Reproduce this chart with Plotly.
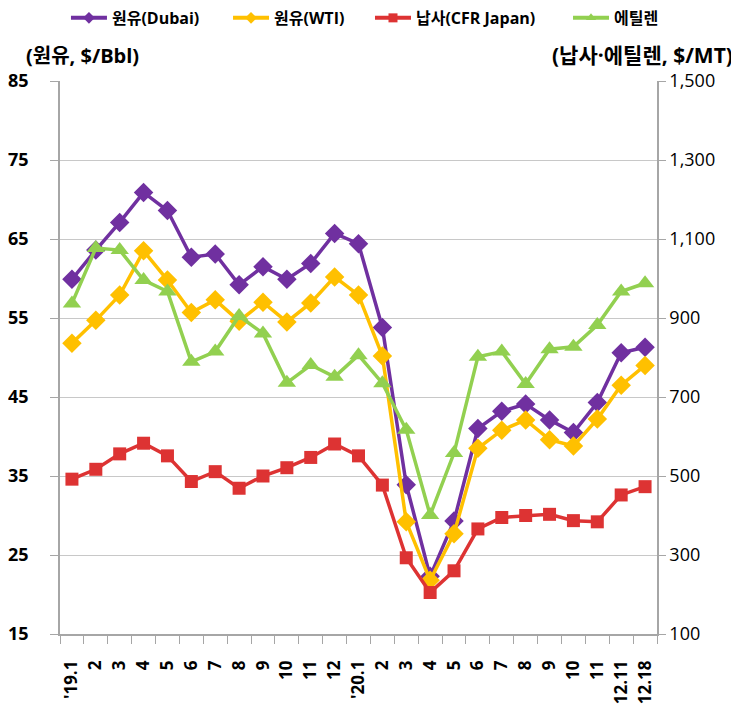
import plotly.graph_objects as go

x_labels = ["'19.1", "2", "3", "4", "5", "6", "7", "8", "9", "10", "11", "12",
            "'20.1", "2", "3", "4", "5", "6", "7", "8", "9", "10", "11", "12.11", "12.18"]

dubai = [59.9, 63.6, 67.1, 70.9, 68.6, 62.7, 63.1, 59.2, 61.5, 59.9, 61.9, 65.7,
         64.4, 53.8, 33.9, 22.3, 29.3, 41.0, 43.2, 44.1, 42.1, 40.5, 44.3, 50.6, 51.3]
wti = [51.8, 54.7, 57.9, 63.5, 59.8, 55.7, 57.3, 54.6, 57.0, 54.5, 56.9, 60.2,
       57.9, 50.2, 29.2, 21.8, 27.7, 38.5, 40.8, 42.1, 39.6, 38.8, 42.2, 46.5, 49.0]
naphtha = [492, 517, 556, 583, 551, 486, 511, 469, 500, 521, 547, 581,
           551, 477, 293, 205, 260, 366, 395, 400, 403, 387, 384, 452, 473]
ethylene = [937, 1077, 1072, 996, 967, 789, 815, 905, 861, 736, 781, 751,
            806, 735, 617, 401, 558, 802, 815, 733, 821, 827, 882, 967, 988]

series_names = ["원유(Dubai)", "원유(WTI)", "납사(CFR Japan)", "에틸렌"]

left_ticks = [15, 25, 35, 45, 55, 65, 75, 85]
right_ticks = [100, 300, 500, 700, 900, 1100, 1300, 1500]

FONT = "Open Sans, Noto Sans CJK KR"
xi = list(range(len(x_labels)))

styles = [
    dict(color="#7030A0", symbol="diamond", size=15, axis="y"),
    dict(color="#FFC000", symbol="diamond", size=15, axis="y"),
    dict(color="#DD3333", symbol="square", size=13, axis="y2"),
    dict(color="#92D050", symbol="triangle-up", size=16, axis="y2"),
]
data = [dubai, wti, naphtha, ethylene]
legend_ids = ["legend", "legend2", "legend3", "legend4"]
legend_x = [0.0793, 0.3010, 0.4952, 0.7661]

fig = go.Figure()
for name, vals, st, lid in zip(series_names, data, styles, legend_ids):
    fig.add_trace(go.Scatter(x=xi, y=vals, name=name, mode="lines+markers",
                             yaxis=st["axis"], showlegend=False,
                             line=dict(color=st["color"], width=3.5),
                             marker=dict(symbol=st["symbol"], size=st["size"],
                                         color=st["color"])))
    # legend proxy with smaller marker, as in the reference legend
    fig.add_trace(go.Scatter(x=[None], y=[None], name=name, mode="lines+markers",
                             yaxis=st["axis"], showlegend=True, legend=lid,
                             line=dict(color=st["color"], width=4),
                             marker=dict(symbol=st["symbol"], size=9,
                                         color=st["color"])))

legend_common = dict(orientation="h", xref="container", y=1.114, yanchor="middle",
                     xanchor="left",
                     font=dict(size=16, family=FONT, weight="bold"),
                     itemwidth=36, bgcolor="rgba(0,0,0,0)")

fig.update_layout(
    width=731, height=706,
    margin=dict(l=52, r=82, t=73, b=80, autoexpand=False),
    paper_bgcolor="white", plot_bgcolor="white",
    font=dict(family=FONT, color="black"),
    showlegend=True,
    legend=dict(x=legend_x[0], **legend_common),
    legend2=dict(x=legend_x[1], **legend_common),
    legend3=dict(x=legend_x[2], **legend_common),
    legend4=dict(x=legend_x[3], **legend_common),
    xaxis=dict(
        range=[-0.5, len(x_labels) - 0.5],
        tickmode="array", tickvals=xi, ticktext=x_labels,
        tickangle=-90, ticks="", showgrid=False, zeroline=False,
        showline=True, linecolor="#A6A6A6", linewidth=1.5,
        ticklabelstandoff=18,
        tickfont=dict(size=17, family=FONT, weight="bold", color="black"),
        minor=dict(ticks="outside", tick0=-0.5, dtick=1, ticklen=8,
                   tickcolor="#A6A6A6", showgrid=False),
    ),
    yaxis=dict(
        range=[15, 85], tickmode="array", tickvals=left_ticks,
        showgrid=True, gridcolor="#C8C8C8", gridwidth=1.2, zeroline=False,
        showline=True, linecolor="#A6A6A6", linewidth=1.5,
        ticks="outside", ticklen=8, tickcolor="#A6A6A6",
        ticklabelstandoff=18,
        tickfont=dict(size=18, family=FONT, weight="bold", color="black"),
    ),
    yaxis2=dict(
        range=[100, 1500], tickmode="array", tickvals=right_ticks,
        overlaying="y", side="right", tickformat=",",
        showgrid=False, zeroline=False,
        showline=True, linecolor="#A6A6A6", linewidth=1.5,
        ticks="outside", ticklen=7, tickcolor="#A6A6A6",
        tickfont=dict(size=18, family=FONT, color="black"),
    ),
    annotations=[
        dict(text="(원유, $/Bbl)", xref="paper", yref="paper", x=-0.0603, y=1.047,
             xanchor="left", yanchor="middle", showarrow=False,
             font=dict(size=20, family=FONT, weight="bold")),
        dict(text="(납사·에틸렌, $/MT)", xref="paper", yref="paper", x=1.130, y=1.047,
             xanchor="right", yanchor="middle", showarrow=False,
             font=dict(size=21, family=FONT, weight="bold")),
    ],
)

fig.write_html("out.html")
